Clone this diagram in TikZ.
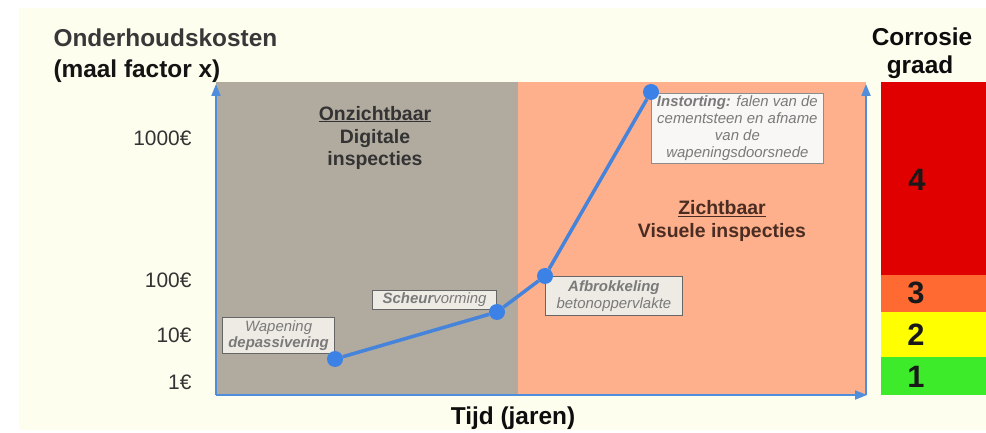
\documentclass[tikz,border=0pt]{standalone}
\usepackage{fontspec}
\setmainfont{Liberation Sans}
\usepackage{tikz,xcolor}
\usetikzlibrary{arrows.meta, positioning}

\definecolor{cream}{HTML}{FEFEEF}
\definecolor{stone}{HTML}{B1AA9F}
\definecolor{salmon}{HTML}{FDB08B}
\definecolor{axisblue}{HTML}{4F8EDC}
\definecolor{curveblue}{HTML}{4584DA}
\definecolor{dotblue}{HTML}{3C82E6}
\definecolor{gradered}{HTML}{E00000}
\definecolor{gradeorange}{HTML}{FF6A33}
\definecolor{gradeyellow}{HTML}{FFFF00}
\definecolor{gradegreen}{HTML}{3DEB2A}
\definecolor{boxfill}{HTML}{EEEBE5}
\definecolor{boxtext}{HTML}{7A7A7A}
\definecolor{zichtbrown}{HTML}{4A2C22}

\begin{document}
\begin{tikzpicture}[x=1bp, y=1bp, yscale=-1]
\tikzstyle{AxisStyle}=[draw=axisblue, line width=2bp, -{Triangle[length=12bp, width=9bp]}]
\tikzstyle{PointStyle}=[circle, fill=dotblue, inner sep=0pt, minimum size=16bp]
\tikzstyle{StageStyle}=[draw=black!60, line width=0.8bp, fill=boxfill, text=boxtext, align=center, inner xsep=2bp, inner ysep=2.5bp, font=\fontsize{15}{17}\selectfont\itshape]
\tikzstyle{TickStyle}=[anchor=east, text=black!80, font=\fontsize{21}{24}\selectfont]
\tikzstyle{TitleStyle}=[font=\fontsize{24.5}{30}\selectfont\bfseries]
\tikzstyle{ZoneStyle}=[align=center, font=\fontsize{19.5}{23}\selectfont\bfseries]
\tikzstyle{GradeStyle}=[font=\fontsize{31}{31}\selectfont\bfseries, text=black!90]

\useasboundingbox (0,0) rectangle (986,433);
\fill[white] (0,0) rectangle (986,433);
\fill[cream] (19,8) rectangle (986,430);

\fill[stone] (216,82) rectangle (518,395);
\fill[salmon] (518,82) rectangle (866,395);

\fill[gradered] (881,82) rectangle (986,275);
\fill[gradeorange] (881,275) rectangle (986,312);
\fill[gradeyellow] (881,312) rectangle (986,357);
\fill[gradegreen] (881,357) rectangle (986,395);

\node[GradeStyle] (g4) at (917,180) {4};
\node[GradeStyle] (g3) at (916,293) {3};
\node[GradeStyle] (g2) at (916,335) {2};
\node[GradeStyle] (g1) at (916,377) {1};

\node[TitleStyle, text=black!78, anchor=west] (cost) at (50,38) {Onderhoudskosten};
\node[TitleStyle, text=black!92, anchor=west] (factor) at (50,71) {(maal factor x)};
\node[TitleStyle, text=black!95] (corr) at (922,37) {Corrosie};
\node[TitleStyle, text=black!95] (graad) at (920,67) {graad};
\node[TitleStyle, text=black!95] (time) at (513,418) {Tijd (jaren)};

\node[TickStyle] (t1000) at (195,138) {1000€};
\node[TickStyle] (t100) at (195,280) {100€};
\node[TickStyle] (t10) at (195,335) {10€};
\node[TickStyle] (t1) at (195,382) {1€};

\node[ZoneStyle, text=black!80] (onz) at (375,138) {\underline{Onzichtbaar}\\Digitale\\inspecties};
\node[ZoneStyle, text=zichtbrown] (zicht) at (722,221) {\underline{Zichtbaar}\\Visuele inspecties};

\coordinate (origin) at (216,395);
\coordinate (ytop) at (216,84);
\coordinate (xend) at (867,395);
\coordinate (rtop) at (866,84);
\coordinate (rbot) at (866,395);
\draw[AxisStyle] (origin) -- (ytop);
\draw[AxisStyle] (origin) -- (xend);
\draw[AxisStyle] (rbot) -- (rtop);

\coordinate (c1) at (335,359);
\coordinate (c2) at (497,312);
\coordinate (c3) at (545,276);
\coordinate (c4) at (651,92);

\node[StageStyle, anchor=south east, minimum width=112bp] (wap) at ([yshift=-5bp]c1) {Wapening\\\textbf{depassivering}};
\node[StageStyle, anchor=south east, minimum width=124bp] (scheur) at ([yshift=-2bp]c2) {\textbf{Scheur}vorming};
\node[StageStyle, anchor=north west, minimum width=137bp, inner ysep=4bp] (afbr) at (c3) {\textbf{Afbrokkeling}\\betonoppervlakte};
\node[StageStyle, anchor=north west, minimum width=172bp, fill=white!60!boxfill, draw=black!45] (inst) at ([yshift=1bp]c4) {\textbf{Instorting:} falen van de\\cementsteen en afname\\van de\\wapeningsdoorsnede};

\node[PointStyle] (p1) at (c1) {};
\node[PointStyle] (p2) at (c2) {};
\node[PointStyle] (p3) at (c3) {};
\node[PointStyle] (p4) at (c4) {};

\draw[curveblue, line width=3.5bp] (p1) -- (p2) -- (p3) -- (p4);

\end{tikzpicture}
\end{document}
